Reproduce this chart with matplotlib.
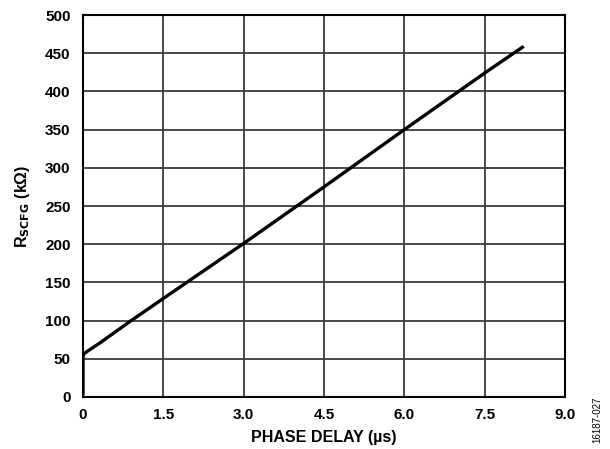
import matplotlib.pyplot as plt

plt.rcParams['font.family'] = ['Liberation Sans', 'DejaVu Sans']

# phase delay (us) vs R_SCFG (kOhm)
phase_delay = [0.0, 0.0, 0.0, 0.02, 0.3, 0.88, 1.5, 3.0, 4.5, 5.0, 6.0, 7.5, 8.23]
r_scfg = [2, 30, 53, 57, 70, 99, 129, 201, 275, 300, 350, 424, 459]

x_ticks = [0, 1.5, 3.0, 4.5, 6.0, 7.5, 9.0]
x_labels = ['0', '1.5', '3.0', '4.5', '6.0', '7.5', '9.0']
y_ticks = list(range(0, 501, 50))

fig = plt.figure(figsize=(6.1, 4.49), dpi=100)
ax = fig.add_axes([83 / 610, 52 / 449, 482 / 610, 382 / 449])

ax.plot(phase_delay, r_scfg, color='black', linewidth=2.4, solid_capstyle='butt')

ax.set_xlim(0, 9)
ax.set_ylim(0, 500)
ax.set_xticks(x_ticks)
ax.set_xticklabels(x_labels)
ax.set_yticks(y_ticks)
ax.grid(True, color='#3a3a3a', linewidth=1.3)
ax.set_axisbelow(True)
for s in ax.spines.values():
    s.set_linewidth(1.5)
    s.set_color('black')
ax.tick_params(length=0, labelsize=11)
ax.tick_params(axis='x', pad=8)
ax.tick_params(axis='y', pad=9)
for lbl in ax.get_xticklabels() + ax.get_yticklabels():
    lbl.set_fontweight('bold')

ax.set_xlabel('PHASE DELAY (µs)', fontsize=11.5, fontweight='bold', labelpad=6)
ax.set_ylabel(r'R$_{\mathbf{SCFG}}$ (kΩ)', fontsize=11.5, fontweight='bold', labelpad=9)

fig.text(597 / 610, (449 - 420) / 449, '16187-027', rotation=90, fontsize=7,
         ha='center', va='center')

plt.savefig('out.png', dpi=100)
